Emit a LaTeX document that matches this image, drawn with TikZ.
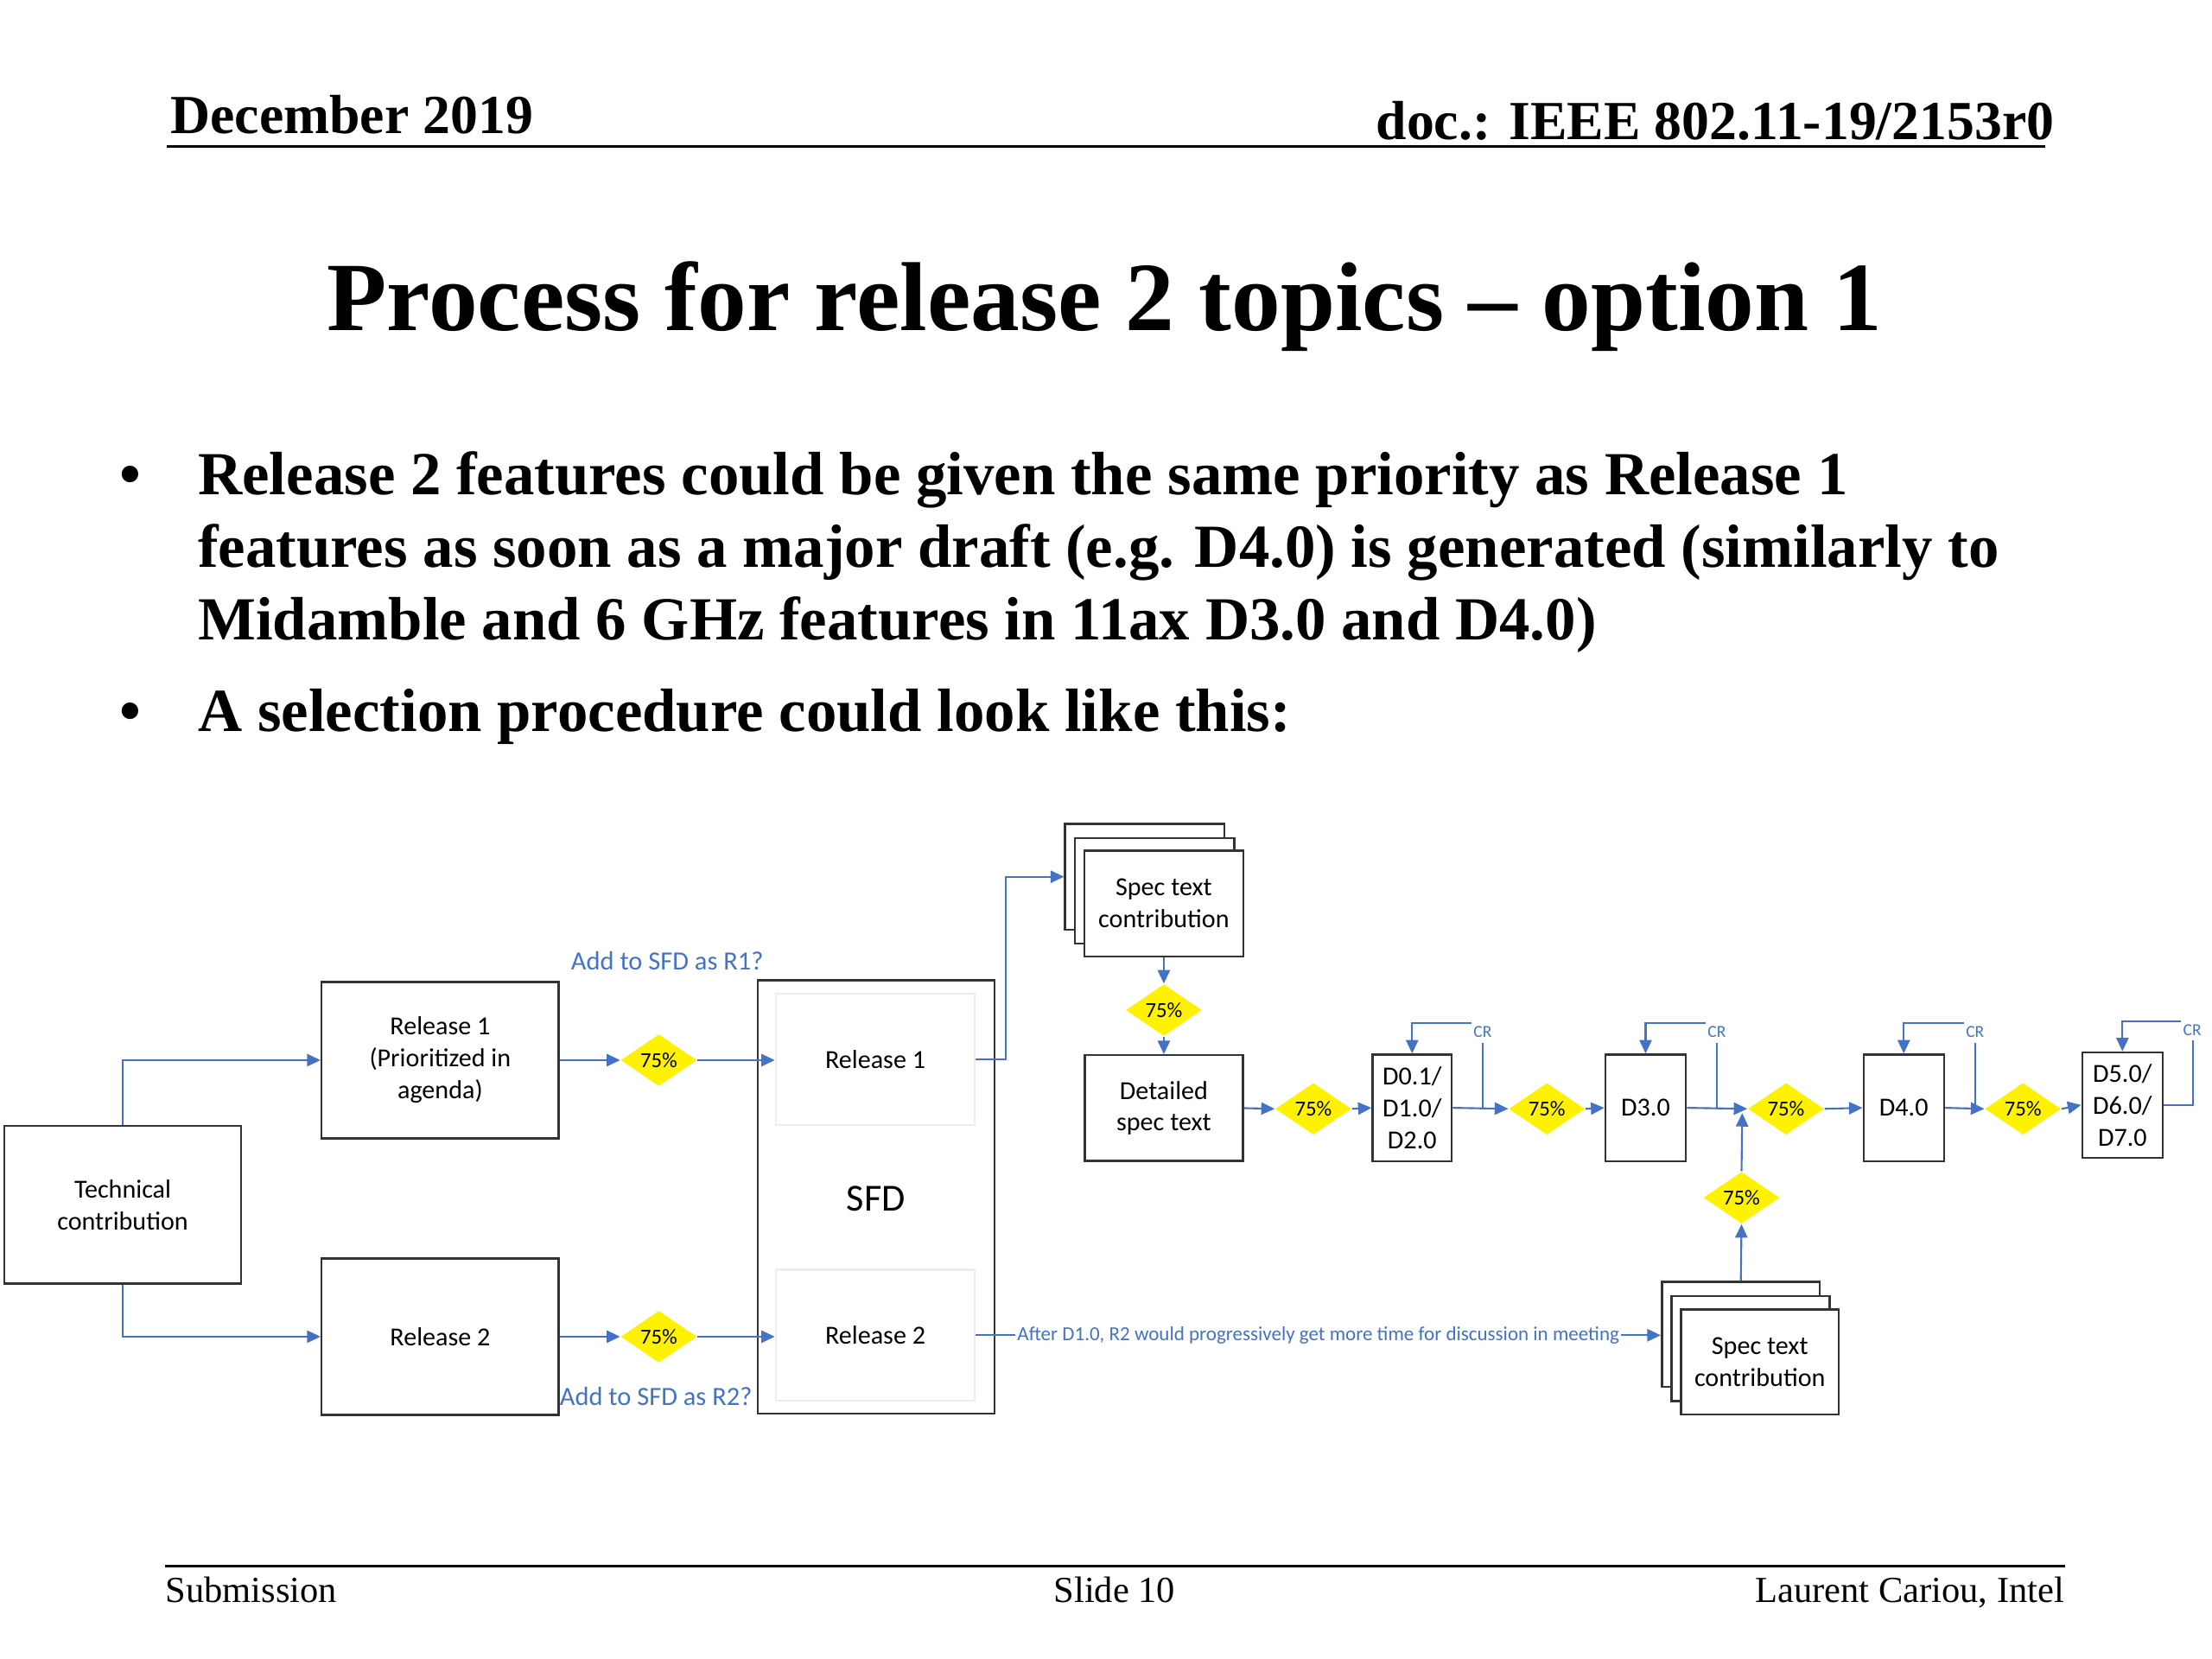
\documentclass[tikz,border=0pt]{standalone}
\usepackage{fontspec}
\setmainfont{Liberation Serif}
\newfontfamily\diag{Carlito}
\usetikzlibrary{shapes.geometric,arrows.meta,calc}
\newlength\upx
\setlength\upx{0.16199mm}
\definecolor{lnblue}{RGB}{68,114,196}
\tikzset{
  box/.style={draw=black!80, line width=0.7pt, fill=white, inner sep=0pt, align=center,
    font=\diag\fontsize{8.5}{10.4}\selectfont},
  dmd/.style={diamond, fill=yellow, inner sep=0pt, minimum width=54\upx, minimum height=36\upx,
    font=\diag\fontsize{7}{8}\selectfont},
  arr/.style={draw=lnblue, line width=0.6pt, -{Triangle[length=4.4pt,width=4pt]}},
  bluelbl/.style={text=lnblue, inner sep=0pt, font=\diag\fontsize{8.6}{10}\selectfont},
  crlbl/.style={fill=white, text=lnblue, inner sep=0pt, minimum width=16\upx, minimum height=15\upx,
    font=\diag\fontsize{5.5}{6}\selectfont},
  hdr/.style={inner sep=0pt, font=\fontsize{18}{21}\bfseries\selectfont},
  ftr/.style={inner sep=0pt, font=\fontsize{12}{14}\selectfont},
  bul/.style={inner sep=0pt, anchor=base west, font=\fontsize{20}{24}\bfseries\selectfont},
  rule/.style={line width=0.9pt, black},
}
\begin{document}
\begin{tikzpicture}[x=\upx, y=-\upx]
\fill[white] (0,0) rectangle (1568,1176);
\useasboundingbox (0,0) rectangle (1568,1176);

% header
\node[hdr, anchor=base west] (hdate) at (120.5,94.5) {December 2019};
\node[hdr, anchor=base east] (hdoc) at (1456.5,99) {doc.: IEEE 802.11-19/2153r0};
\draw[rule] (118,104) -- (1450,104);

% title
\node[inner sep=0pt, anchor=base, font=\fontsize{32}{38}\bfseries\selectfont] (title) at (783,234.3)
  {Process for release 2 topics – option 1};

% bullets
\node[bul] (b1) at (84.5,350.8) {•};
\node[bul] (t1a) at (140,350.8) {Release 2 features could be given the same priority as Release 1};
\node[bul] (t1b) at (140,402.3) {features as soon as a major draft (e.g. D4.0) is generated (similarly to};
\node[bul] (t1c) at (140,453.8) {Midamble and 6 GHz features in 11ax D3.0 and D4.0)};
\node[bul] (b2) at (84.5,518.3) {•};
\node[bul] (t2a) at (140,518.3) {A selection procedure could look like this:};

% footer
\draw[rule] (117,1110) -- (1463.6,1110);
\node[ftr, anchor=base west] (fsub) at (117,1136) {Submission};
\node[ftr, anchor=base] (fslide) at (790,1136) {Slide 10};
\node[ftr, anchor=base east] (fauth) at (1463.6,1136) {Laurent Cariou, Intel};

% ---------- diagram ----------
\node[box, minimum width=168\upx, minimum height=112\upx] (tech) at (87,854) {Technical\\contribution};
\node[box, minimum width=168\upx, minimum height=111\upx] (rel1) at (312,751.5) {Release 1\\(Prioritized in\\agenda)};
\node[box, minimum width=168\upx, minimum height=111\upx] (rel2) at (312,947.5) {Release 2};
\node[dmd] (d1) at (467,751.5) {75\%};
\node[dmd] (d2) at (467,947.5) {75\%};

\node[box, minimum width=168\upx, minimum height=307\upx] (sfd) at (621,848.5) {};
\node[inner sep=0pt, font=\diag\fontsize{12.5}{15}\selectfont] (sfdl) at (621,850) {SFD};
\node[box, draw=black!7, minimum width=141\upx, minimum height=93\upx] (in1) at (620.5,751) {Release 1};
\node[box, draw=black!7, minimum width=141\upx, minimum height=93\upx] (in2) at (620.5,946.5) {Release 2};

\node[bluelbl] (q1) at (473,681) {Add to SFD as R1?};
\node[bluelbl] (q2) at (465,990) {Add to SFD as R2?};

% upper spec stack
\node[box, minimum width=113\upx, minimum height=75\upx] (sb1) at (811.5,621.5) {};
\node[box, minimum width=113\upx, minimum height=75\upx] (sm1) at (818.5,631.5) {};
\node[box, minimum width=112.5\upx, minimum height=75\upx] (sf1) at (825,640.5) {Spec text\\contribution};

\node[dmd] (dd1) at (825,716) {75\%};
\node[box, minimum width=112\upx, minimum height=75\upx] (det) at (825,785.5) {Detailed\\spec text};
\node[dmd] (dd2) at (931,786) {75\%};
\node[box, minimum width=56\upx, minimum height=75.5\upx] (D01) at (1001,785.3) {D0.1/\\D1.0/\\D2.0};
\node[dmd] (dd3) at (1096.5,786) {75\%};
\node[box, minimum width=57\upx, minimum height=75.5\upx] (D30) at (1166.5,785.3) {D3.0};
\node[dmd] (dd4) at (1266,786) {75\%};
\node[box, minimum width=57\upx, minimum height=75.5\upx] (D40) at (1349.5,785.3) {D4.0};
\node[dmd] (dd5) at (1434,786) {75\%};
\node[box, minimum width=57\upx, minimum height=74.6\upx] (D50) at (1504.5,783.3) {D5.0/\\D6.0/\\D7.0};

% lower spec stack
\node[dmd] (dd6) at (1234.5,849) {75\%};
\node[box, minimum width=112\upx, minimum height=74.5\upx] (sb2) at (1234,945.8) {};
\node[box, minimum width=112\upx, minimum height=74.5\upx] (sm2) at (1241,956) {};
\node[box, minimum width=112\upx, minimum height=74.6\upx] (sf2) at (1247.5,965.5) {Spec text\\contribution};

% connectors
\draw[arr] (tech.north) |- (rel1.west);
\draw[arr] (tech.south) |- (rel2.west);
\draw[arr] (rel1.east) -- (d1.west);
\draw[arr] (d1.east) -- (d1.east -| in1.west);
\draw[arr] (rel2.east) -- (d2.west);
\draw[arr] (d2.east) -- (d2.east -| in2.west);
\draw[arr] (in1.east) -- ++(21,0) |- (sb1.west);
\draw[arr] (in2.east) -- node[fill=white, text=lnblue, inner xsep=0.6pt, inner ysep=1pt,
   font=\diag\fontsize{6.5}{7}\selectfont] (after) {After D1.0, R2 would progressively get more time for discussion in meeting}
   (in2.east -| sb2.west);

\draw[arr] (sf1.south) -- (dd1.north);
\draw[arr] (dd1.south) -- (det.north);
\draw[arr] (det.east) -- (dd2.west);
\draw[arr] (dd2.east) -- (D01.west);
\draw[arr] (D01.east) -- (dd3.west);
\draw[arr] (dd3.east) -- (D30.west);
\draw[arr] (D30.east) -- (dd4.west);
\draw[arr] (dd4.east) -- (D40.west);
\draw[arr] (D40.east) -- (dd5.west);
\draw[arr] (dd5.east) -- (D50.west);

\draw[arr] (sb2.north) -- (dd6.south);
\coordinate (up) at (1235,789);
\draw[arr] (dd6.north) -- (up);

% CR loops
\coordinate (cr1) at (1051,786);
\coordinate (cr3) at (1217,786);
\coordinate (cr4) at (1400,786);
\draw[arr] (cr1) |- ([yshift=21.5\upx]D01.north) -- (D01.north);
\draw[arr] (cr3) |- ([yshift=21.5\upx]D30.north) -- (D30.north);
\draw[arr] (cr4) |- ([yshift=21.5\upx]D40.north) -- (D40.north);
\draw[arr] (D50.east) -- ++(20.6,0) |- ([yshift=21.4\upx]D50.north) -- (D50.north);
\node[crlbl] (crl1) at (1051,731.5) {CR};
\node[crlbl] (crl3) at (1217,731.5) {CR};
\node[crlbl] (crl4) at (1400,731.5) {CR};
\node[crlbl] (crl5) at (1554,730) {CR};
\end{tikzpicture}
\end{document}
